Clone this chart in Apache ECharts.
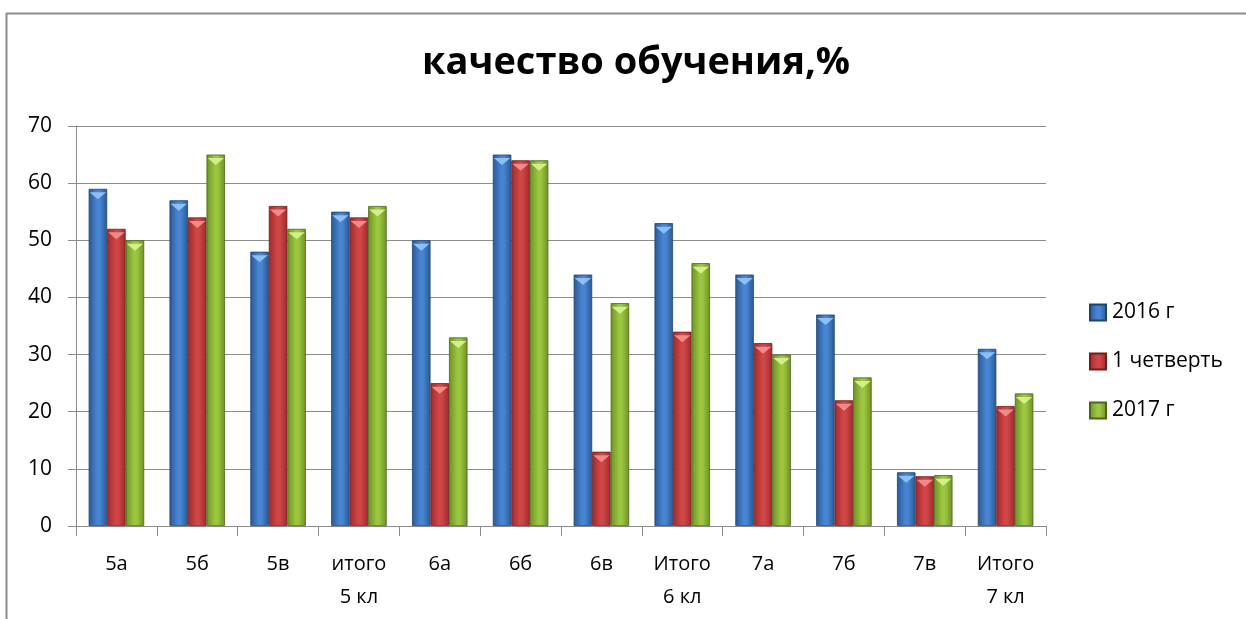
<!DOCTYPE html>
<html><head><meta charset="utf-8">
<script src="https://cdn.jsdelivr.net/npm/echarts@6/dist/echarts.min.js"></script>
<style>html,body{margin:0;padding:0;background:#fff}#c{width:1246px;height:619px}</style>
</head><body><div id="c"></div>
<script>
const categories = ['5а','5б','5в','итого\n5 кл','6а','6б','6в','Итого\n6 кл','7а','7б','7в','Итого\n7 кл'];
const seriesNames = ['2016 г','1 четверть','2017 г'];
const values2016 = [59,57,48,55,50,65,44,53,44,37,9.4,31];
const valuesQ1 = [52,54,56,54,25,64,13,34,32,22,8.7,21];
const values2017 = [50,65,52,56,33,64,39,46,30,26,8.9,23.2];
const yTicks = {min:0,max:70,interval:10};
const titleText = 'качество обучения,%';

const FONT = '"Open Sans", "Noto Sans", sans-serif';
const palettes = [
  {edge:'#2a5894', mid:'#4785d2', light:'#8cc0f5', border:'#1f4270'},
  {edge:'#9e2a2c', mid:'#d04646', light:'#f08a8a', border:'#6e1c1d'},
  {edge:'#6c9126', mid:'#9cc63f', light:'#d4ef8a', border:'#4b6619'}
];
function grad(p){
  return {type:'linear',x:0,y:0,x2:1,y2:0,colorStops:[
    {offset:0,color:p.edge},{offset:0.45,color:p.mid},{offset:0.6,color:p.mid},{offset:1,color:p.edge}]};
}
const dataSets = [values2016, valuesQ1, values2017];
const BW = 18.5;
const series = [];
dataSets.forEach((d,i)=>{
  series.push({type:'bar',name:seriesNames[i],data:d,barWidth:BW,barGap:'0%',
    itemStyle:{color:grad(palettes[i]),borderColor:palettes[i].border,borderWidth:0.8},z:2});
});
dataSets.forEach((d,i)=>{
  series.push({type:'pictorialBar',name:'_top'+i,data:d,barWidth:BW,barGap:'0%',
    symbol:'path://M0,0 L10,0 L5,6 Z',symbolSize:[BW-2,7],symbolPosition:'end',symbolOffset:[0,'50%'],
    itemStyle:{color:palettes[i].light},z:5,silent:true});
});

const chart = echarts.init(document.getElementById('c'),null,{renderer:'canvas'});
chart.setOption({
  animation:false,
  backgroundColor:'#fff',
  title:{text:titleText,left:631,top:39,textAlign:'center',
    textStyle:{fontFamily:FONT,fontWeight:'bold',fontSize:38,color:'#000'}},
  legend:{data:seriesNames.map(n=>({name:n,icon:'rect'})),orient:'vertical',left:1089,top:302,padding:0,
    itemWidth:16,itemHeight:16,itemGap:28,
    textStyle:{fontFamily:FONT,fontSize:21,color:'#000',padding:[0,0,0,1]}},
  grid:{left:76,right:200,top:126,bottom:93,containLabel:false},
  xAxis:{type:'category',data:categories,
    axisLine:{lineStyle:{color:'#8c8c8c',width:1}},
    axisTick:{show:true,alignWithLabel:false,length:10,lineStyle:{color:'#8c8c8c'}},
    axisLabel:{fontFamily:FONT,fontSize:20,color:'#000',margin:22,lineHeight:33,interval:0}},
  yAxis:{type:'value',min:yTicks.min,max:yTicks.max,interval:yTicks.interval,
    axisLine:{show:true,lineStyle:{color:'#8c8c8c',width:1}},
    axisTick:{show:true,length:8,lineStyle:{color:'#8c8c8c'}},
    splitLine:{lineStyle:{color:'#8c8c8c',width:1}},
    axisLabel:{fontFamily:FONT,fontSize:21,color:'#000',margin:24}},
  graphic:[
    {type:'line',shape:{x1:6,y1:13.5,x2:1246,y2:13.5},style:{stroke:'#8c8c8c',lineWidth:2},silent:true},
    {type:'line',shape:{x1:6.5,y1:13,x2:6.5,y2:619},style:{stroke:'#8c8c8c',lineWidth:2},silent:true}
  ],
  series:series
});
</script></body></html>
